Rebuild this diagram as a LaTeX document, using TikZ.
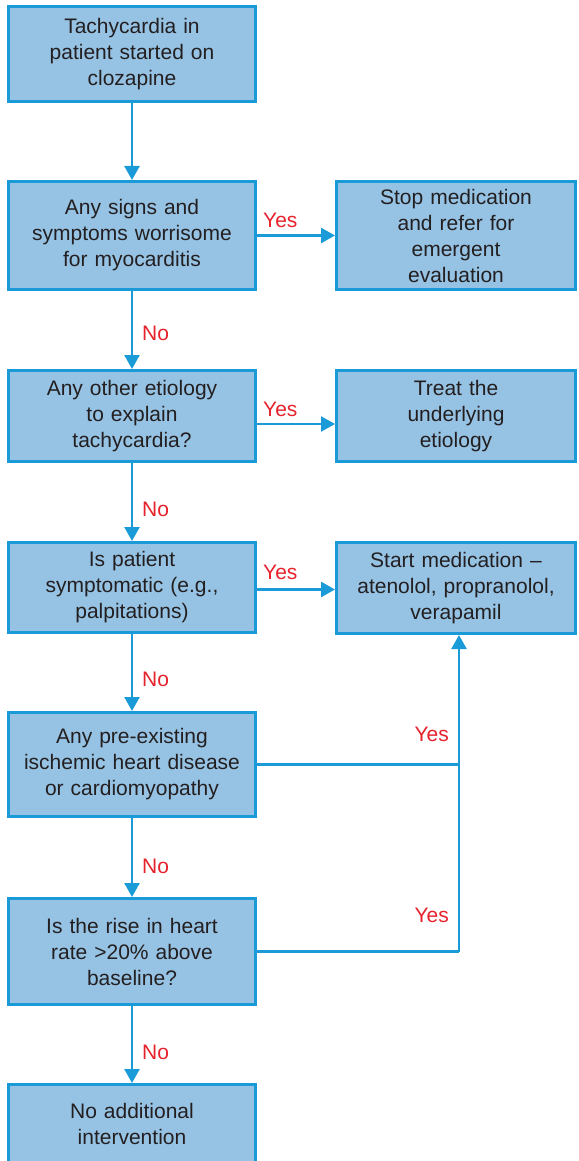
\documentclass[tikz,border=0pt]{standalone}
\usepackage{fontspec}
\setmainfont{Liberation Sans}
\usetikzlibrary{arrows.meta}
\definecolor{boxfill}{RGB}{150,195,228}
\definecolor{boxline}{RGB}{26,155,215}
\definecolor{txt}{RGB}{35,31,32}
\definecolor{yesno}{RGB}{230,35,45}
\begin{document}
\begin{tikzpicture}[x=1pt,y=1pt,
  stepbox/.style={draw=boxline, line width=3pt, fill=boxfill, text=txt,
    align=center, inner sep=0pt, font=\fontsize{21}{26}\selectfont},
  leftbox/.style={stepbox, minimum width=247pt, text width=240pt},
  rightbox/.style={stepbox, minimum width=239pt, text width=235pt},
  flow/.style={draw=boxline, line width=2.5pt},
  arr/.style={flow, -{Triangle[length=14pt,width=15pt]}},
  lbl/.style={text=yesno, font=\fontsize{21}{26}\selectfont, inner sep=0pt}]
\useasboundingbox (0,0) rectangle (578,-1161);
\clip (0,0) rectangle (578,-1161);

% main column
\node[leftbox, minimum height=95pt]  (b1) at (132,-54)     {Tachycardia in\\patient started on\\clozapine};
\node[leftbox, minimum height=108pt] (b2) at (132,-235.5)  {Any signs and\\symptoms worrisome\\for myocarditis};
\node[leftbox, minimum height=91pt]  (b3) at (132,-416)    {Any other etiology\\to explain\\tachycardia?};
\node[leftbox, minimum height=90pt]  (b4) at (132,-587.5)  {Is patient\\symptomatic (e.g.,\\palpitations)};
\node[leftbox, minimum height=104pt] (b5) at (132,-764.5)  {Any pre-existing\\ischemic heart disease\\or cardiomyopathy};
\node[leftbox, minimum height=106pt] (b6) at (132,-951.5)  {Is the rise in heart\\rate >20\% above\\baseline?};
\node[leftbox, minimum height=78pt]  (b7) at (132,-1123.5) {No additional\\intervention};

% outcome column
\node[rightbox, minimum height=108pt] (r1) at (456,-235.5) {Stop medication\\and refer for\\emergent\\evaluation};
\node[rightbox, minimum height=91pt]  (r2) at (456,-416)   {Treat the\\underlying\\etiology};
\node[rightbox, minimum height=91pt]  (r3) at (456,-588)   {Start medication --\\atenolol, propranolol,\\verapamil};

% downward "No" path
\draw[arr] (b1.south) -- (b2.north);
\draw[arr] (b2.south) -- (b3.north);
\draw[arr] (b3.south) -- (b4.north);
\draw[arr] (b4.south) -- (b5.north);
\draw[arr] (b5.south) -- (b6.north);
\draw[arr] (b6.south) -- (b7.north);

% "Yes" branches
\draw[arr] (b2.east) -- (r1.west);
\draw[arr] ([yshift=-8pt]b3.east) -- ([yshift=-8pt]b3.east -| r2.west);
\draw[arr] ([yshift=-2pt]b4.east) -- ([yshift=-2pt]b4.east -| r3.west);

% merged feedback into the medication box
\coordinate (j) at (459,-951.5);
\draw[flow] (b6.east) -- (j);
\draw[flow] (b5.east) -- (b5.east -| j);
\draw[arr] (j) -- (j |- r3.south);

% branch labels
\node[lbl, anchor=west] (y1) at (263,-220) {Yes};
\node[lbl, anchor=west] (y2) at (263,-409) {Yes};
\node[lbl, anchor=west] (y3) at (263,-572) {Yes};
\node[lbl, anchor=east] (y4) at (449,-734) {Yes};
\node[lbl, anchor=east] (y5) at (449,-915) {Yes};
\node[lbl, anchor=west] (n1) at (142,-333) {No};
\node[lbl, anchor=west] (n2) at (142,-509) {No};
\node[lbl, anchor=west] (n3) at (142,-679) {No};
\node[lbl, anchor=west] (n4) at (142,-866) {No};
\node[lbl, anchor=west] (n5) at (142,-1052) {No};
\end{tikzpicture}
\end{document}
